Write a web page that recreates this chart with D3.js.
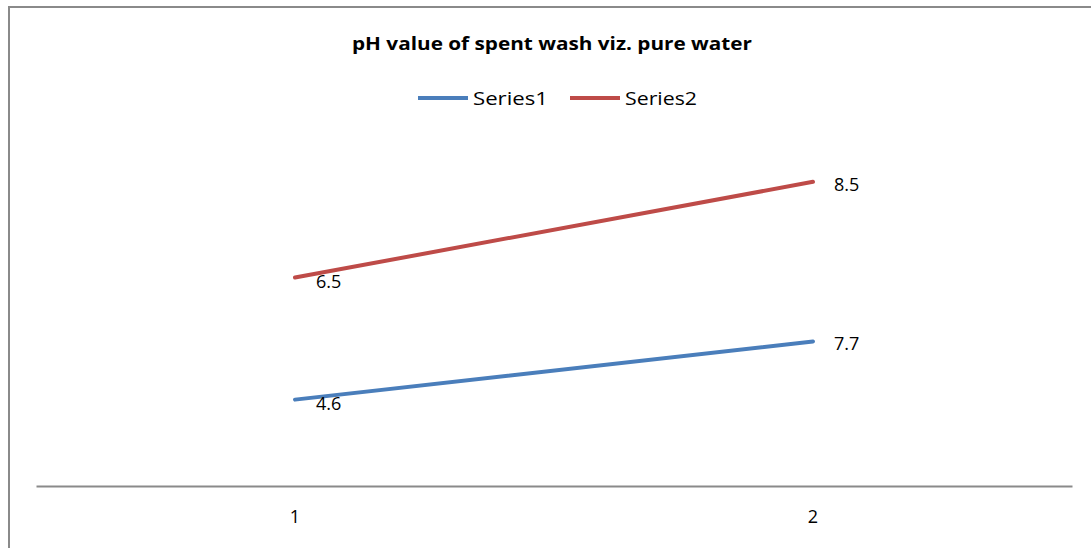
<!DOCTYPE html>
<html>
<head>
<meta charset="utf-8">
<script src="https://cdn.jsdelivr.net/npm/d3@7"></script>
<style>
  body { margin: 0; background: #fff; }
  svg { display: block; font-family: "Open Sans", "Noto Sans", sans-serif; }
</style>
</head>
<body>
<div id="chart"></div>
<script>
const categories = ['1', '2'];
const series1 = [4.6, 7.7];
const series2 = [6.5, 8.5];
const seriesNames = ['Series1', 'Series2'];
const seriesColors = ['#4A7EBB', '#BE4B48'];

const width = 1091, height = 548;
const svg = d3.select('#chart').append('svg').attr('width', width).attr('height', height);

// chart frame (left and top edges only visible)
svg.append('path').attr('d', 'M9,548 V7 H1091')
  .attr('fill', 'none').attr('stroke', '#8a8a8a').attr('stroke-width', 2);

const x = d3.scaleBand().domain(categories).range([36, 1072]);
const y = d3.scaleLinear().domain([0, 18]).range([486, 148]);

// stacked line chart
const stack = d3.stack().keys([0, 1]).value((d, k) => d[k]);
const rows = categories.map((c, i) => [series1[i], series2[i]]);
const stacked = stack(rows);

const line = d3.line()
  .x((d, i) => x(categories[i]) + x.bandwidth() / 2)
  .y(d => y(d[1]));

stacked.forEach((s, k) => {
  svg.append('path').datum(s)
    .attr('fill', 'none').attr('stroke', seriesColors[k])
    .attr('stroke-width', 4).attr('stroke-linecap', 'round')
    .attr('d', line);
  const vals = k === 0 ? series1 : series2;
  svg.selectAll(null).data(s).join('text')
    .attr('x', (d, i) => x(categories[i]) + x.bandwidth() / 2 + 21)
    .attr('y', (d, i) => y(d[1]) + (i === 0 ? 10 : 9))
    .attr('font-size', 18).attr('fill', '#000')
    .text((d, i) => vals[i]);
});

// x axis
const xAxis = svg.append('g').attr('transform', 'translate(0,486)')
  .call(d3.axisBottom(x).tickSize(0).tickPadding(24));
xAxis.select('.domain').attr('stroke', '#8a8a8a').attr('stroke-width', 2);
xAxis.selectAll('text').attr('font-size', 18).attr('fill', '#000')
  .attr('font-family', '"Open Sans", "Noto Sans", sans-serif');

// title
svg.append('text').attr('x', 552).attr('y', 50).attr('text-anchor', 'middle')
  .attr('font-size', 18).attr('font-weight', 'bold').attr('fill', '#000')
  .attr('textLength', 400).attr('lengthAdjust', 'spacingAndGlyphs')
  .text('pH value of spent wash viz. pure water');

// legend
const legendX = [418, 570];
const legendTextLen = [75, 72];
seriesNames.forEach((name, k) => {
  const g = svg.append('g').attr('transform', `translate(${legendX[k]},98)`);
  g.append('line').attr('x1', 0).attr('x2', 50).attr('y1', 0).attr('y2', 0)
    .attr('stroke', seriesColors[k]).attr('stroke-width', 4);
  g.append('text').attr('x', 55).attr('y', 7).attr('font-size', 19).attr('fill', '#000')
    .attr('textLength', legendTextLen[k]).attr('lengthAdjust', 'spacingAndGlyphs')
    .text(name);
});
</script>
</body>
</html>
